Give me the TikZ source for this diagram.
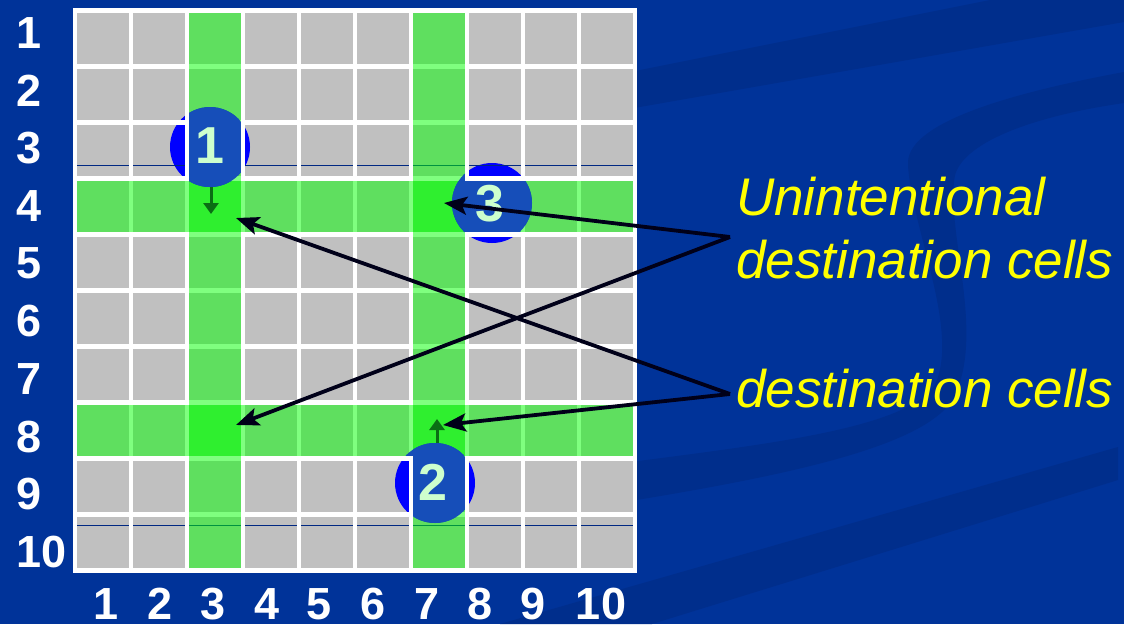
\documentclass[tikz,border=0pt]{standalone}
\usepackage{fontspec}
\setmainfont{Liberation Sans}
\usetikzlibrary{arrows.meta}
\definecolor{bgblue}{RGB}{0,51,153}
\definecolor{swooshblue}{RGB}{0,46,140}
\definecolor{cellgray}{RGB}{192,192,192}
\definecolor{thinnavy}{RGB}{0,40,130}
\definecolor{circblue}{RGB}{0,0,255}
\definecolor{instripe}{RGB}{22,78,185}
\definecolor{stripegreen}{RGB}{0,255,0}
\definecolor{numgreen}{RGB}{205,255,205}
\definecolor{arrowgreen}{RGB}{10,110,20}
\definecolor{labelyellow}{RGB}{255,255,0}
\definecolor{arrowblack}{RGB}{0,0,25}
\tikzset{
  swoosh/.style={fill=swooshblue},
  gridline/.style={draw=white, line width=4.4pt},
  thinline/.style={draw=thinnavy, line width=1pt},
  stripe/.style={fill=stripegreen, fill opacity=0.5},
  circ/.style={circle, fill=circblue, minimum size=80pt, inner sep=0pt},
  circnum/.style={text=numgreen, font=\fontsize{52}{60}\selectfont\bfseries, inner sep=0pt},
  axislabel/.style={text=white, font=\fontsize{45}{52}\selectfont\bfseries, inner sep=0pt},
  caption/.style={text=labelyellow, font=\fontsize{53}{60}\selectfont\itshape, inner sep=0pt, anchor=base west},
  greenarrow/.style={draw=arrowgreen, line width=3pt, -{Triangle[length=11pt,width=15pt]}},
  blackarrow/.style={draw=arrowblack, line width=3.8pt, -{Stealth[length=23pt,width=18pt,inset=5pt]}}
}
\begin{document}
\begin{tikzpicture}[x=1pt,y=-1pt]
\useasboundingbox (0,0) rectangle (1124,624);
\fill[bgblue] (0,0) rectangle (1124,624);
% background swooshes
\fill[swoosh] (600,78) -- (990,0) -- (1124,0) -- (1124,22) -- (600,114) -- cycle;
\fill[swoosh] (1124,72) .. controls (1000,95) and (905,125) .. (908,165)
  .. controls (912,230) and (960,330) .. (935,385)
  .. controls (905,430) and (760,445) .. (600,466)
  -- (600,506)
  .. controls (760,480) and (930,450) .. (955,395)
  .. controls (985,330) and (945,230) .. (955,175)
  .. controls (965,140) and (1040,115) .. (1124,103) -- cycle;
\fill[swoosh] (500,624) -- (1118,447) -- (1118,480) -- (652,624) -- cycle;
% grid base
\fill[cellgray] (75,10.5) rectangle (635,570.5);
% circles
\node[circ] (c1) at (210,147) {};
\node[circ] (c3) at (492,203) {};
\node[circ] (c2) at (435,483) {};
% thin lines
\draw[thinline] (77,165.5) -- (633,165.5);
\draw[thinline] (77,525) -- (633,525);
% white grid lines
\foreach \k in {1,...,9} {
  \draw[gridline] (75+56*\k,10.5) -- (75+56*\k,570.5);
  \draw[gridline] (75,10.5+56*\k) -- (635,10.5+56*\k);
}
\draw[gridline] (75,10.5) rectangle (635,570.5);
% green stripes
\fill[stripe] (189.2,12.7) rectangle (240.8,568.3);
\fill[stripe] (413.2,12.7) rectangle (464.8,568.3);
\fill[stripe] (77.2,180.7) rectangle (632.8,232.3);
\fill[stripe] (77.2,404.7) rectangle (632.8,456.3);
% circle parts under the stripes
\begin{scope}
  \clip (210,147) circle[radius=40] (492,203) circle[radius=40] (435,483) circle[radius=40];
  \fill[instripe] (189.2,12.7) rectangle (240.8,568.3);
  \fill[instripe] (413.2,12.7) rectangle (464.8,568.3);
  \fill[instripe] (77.2,180.7) rectangle (632.8,232.3);
  \fill[instripe] (77.2,404.7) rectangle (632.8,456.3);
\end{scope}
% numbers
\node[circnum] (n1) at (210,146) {1};
\node[circnum] (n3) at (490,204) {3};
\node[circnum] (n2) at (433,482) {2};
% small green arrows
\coordinate (g1) at (211,214);
\coordinate (g2) at (437,419);
\draw[greenarrow] (c1.south) ++(1,0) -- (g1);
\draw[greenarrow] (437,443) -- (g2);
% axis labels
\foreach \k in {1,...,10} {
  \node[axislabel, anchor=west] (r\k) at (16,{33+57.67*(\k-1)}) {\k};
}
\node[axislabel] (b1) at (106,604) {1};
\node[axislabel] (b2) at (160,604) {2};
\node[axislabel] (b3) at (213,604) {3};
\node[axislabel] (b4) at (267,604) {4};
\node[axislabel] (b5) at (319,604) {5};
\node[axislabel] (b6) at (373,604) {6};
\node[axislabel] (b7) at (427,604) {7};
\node[axislabel] (b8) at (480,604) {8};
\node[axislabel] (b9) at (533,604) {9};
\node[axislabel] (b10) at (601,604) {10};
% captions
\node[caption] (cap1) at (736,215) {Unintentional};
\node[caption] (cap2) at (736,278) {destination cells};
\node[caption] (cap3) at (736,407) {destination cells};
% black arrows
\coordinate (u) at (730,237);
\coordinate (d) at (730,394);
\coordinate (t1) at (444,203);
\coordinate (t2) at (236,425);
\coordinate (t3) at (236,218);
\coordinate (t4) at (443,425);
\draw[blackarrow] (u) -- (t1);
\draw[blackarrow] (u) -- (t2);
\draw[blackarrow] (d) -- (t3);
\draw[blackarrow] (d) -- (t4);
\end{tikzpicture}
\end{document}
